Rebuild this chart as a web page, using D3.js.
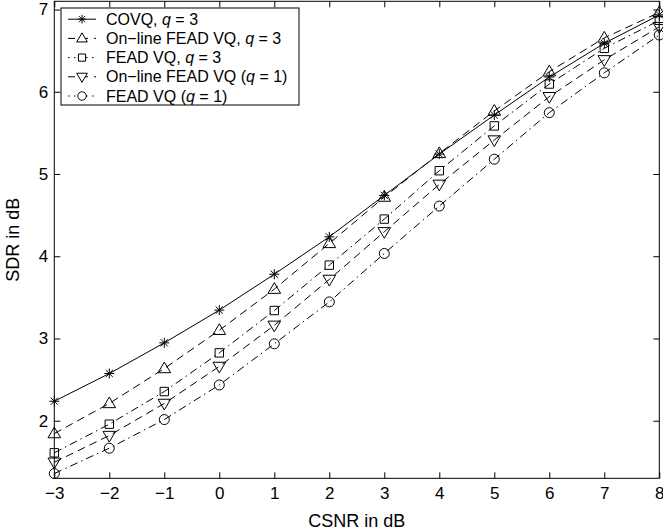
<!DOCTYPE html>
<html>
<head>
<meta charset="utf-8">
<script src="https://cdn.jsdelivr.net/npm/d3@7"></script>
<style>
  html, body { margin: 0; padding: 0; background: #fff; }
  svg { display: block; }
  text { font-family: "Liberation Sans", Arial, Helvetica, sans-serif; fill: #000; }
</style>
</head>
<body>
<svg id="chart" width="663" height="532"></svg>
<script>
// CSNR values (dB) on the horizontal axis
const csnr = [-3, -2, -1, 0, 1, 2, 3, 4, 5, 6, 7, 8];

// SDR (dB) for each scheme
const covqQ3       = [2.237, 2.574, 2.947, 3.345, 3.782, 4.236, 4.740, 5.242, 5.717, 6.179, 6.589, 6.935];
const onlineFeadQ3 = [1.844, 2.210, 2.635, 3.100, 3.600, 4.156, 4.720, 5.250, 5.766, 6.244, 6.655, 6.965];
const feadQ3       = [1.610, 1.958, 2.355, 2.825, 3.340, 3.892, 4.452, 5.040, 5.585, 6.094, 6.528, 6.868];
const onlineFeadQ1 = [1.495, 1.820, 2.210, 2.660, 3.160, 3.718, 4.297, 4.874, 5.413, 5.940, 6.388, 6.790];
const feadQ1       = [1.358, 1.666, 2.014, 2.435, 2.935, 3.445, 4.034, 4.610, 5.180, 5.746, 6.230, 6.690];

// Legend labels (plain part, italic q, rest)
const seriesLabels = [
  ["COVQ, ", "q", " = 3"],
  ["On\u2212line FEAD VQ, ", "q", " = 3"],
  ["FEAD VQ, ", "q", " = 3"],
  ["On\u2212line FEAD VQ (", "q", " = 1)"],
  ["FEAD VQ (", "q", " = 1)"]
];

// Tick values
const xTicks = [-3, -2, -1, 0, 1, 2, 3, 4, 5, 6, 7, 8];
const yTicks = [2, 3, 4, 5, 6, 7];

const xLabel = "CSNR in dB";
const yLabel = "SDR in dB";

// ---- drawing ----
const svg = d3.select("#chart");
const plot = { left: 54.3, right: 659.3, top: 1.3, bottom: 478.3 };

const x = d3.scaleLinear().domain([-3, 8]).range([plot.left, plot.right]);
const y = d3.scaleLinear().domain([1.3, 7.1]).range([plot.bottom, plot.top]);

// Line style per scheme; the short legend samples use a tighter pattern
const series = [
  { values: covqQ3,       dash: null,        keyDash: null,      marker: "star" },
  { values: onlineFeadQ3, dash: "8,5",       keyDash: "7,6",     marker: "tri-up" },
  { values: feadQ3,       dash: "8,4,1.5,4", keyDash: "1.5,4.5", marker: "square" },
  { values: onlineFeadQ1, dash: "8,5",       keyDash: "7,6",     marker: "tri-down" },
  { values: feadQ1,       dash: "8,4,1.5,4", keyDash: "1.5,4.5", marker: "circle" }
];

// Marker outline paths centred at (0,0)
function markerPath(kind, k = 1) {
  const p = d3.path();
  if (kind === "star") {
    const r = 5 * k;
    const d = r * 0.72;
    p.moveTo(-r, 0); p.lineTo(r, 0);
    p.moveTo(0, -r); p.lineTo(0, r);
    p.moveTo(-d, -d); p.lineTo(d, d);
    p.moveTo(-d, d); p.lineTo(d, -d);
  } else if (kind === "tri-up") {
    p.moveTo(0, -6.5 * k); p.lineTo(6.3 * k, 4.2 * k); p.lineTo(-6.3 * k, 4.2 * k); p.closePath();
  } else if (kind === "tri-down") {
    p.moveTo(0, 6.5 * k); p.lineTo(6.3 * k, -4.2 * k); p.lineTo(-6.3 * k, -4.2 * k); p.closePath();
  } else if (kind === "square") {
    p.rect(-4.2 * k, -4.2 * k, 8.4 * k, 8.4 * k);
  } else if (kind === "circle") {
    p.arc(0, 0, 5 * k, 0, 2 * Math.PI);
  }
  return p.toString();
}

// Axes box with inward ticks on all four sides
const axisBottom = d3.axisBottom(x).tickValues(xTicks).tickSizeInner(-6).tickSizeOuter(0)
  .tickFormat(d => d < 0 ? "\u2212" + Math.abs(d) : String(d)).tickPadding(9);
const axisTop = d3.axisTop(x).tickValues(xTicks).tickSizeInner(-6).tickSizeOuter(0).tickFormat("");
const axisLeft = d3.axisLeft(y).tickValues(yTicks).tickSizeInner(-6).tickSizeOuter(0)
  .tickFormat(d3.format("d")).tickPadding(6);
const axisRight = d3.axisRight(y).tickValues(yTicks).tickSizeInner(-6).tickSizeOuter(0).tickFormat("");

function styleAxis(g) {
  g.select(".domain").remove();
  g.selectAll(".tick line").attr("stroke", "#000").attr("stroke-width", 1);
  g.selectAll(".tick text").attr("font-size", 17).attr("fill", "#000")
    .attr("font-family", "'Liberation Sans', Arial, sans-serif");
}

svg.append("g").attr("transform", `translate(0,${plot.bottom})`).call(axisBottom).call(styleAxis);
svg.append("g").attr("transform", `translate(0,${plot.top})`).call(axisTop).call(styleAxis);
svg.append("g").attr("transform", `translate(${plot.left},0)`).call(axisLeft).call(styleAxis);
svg.append("g").attr("transform", `translate(${plot.right},0)`).call(axisRight).call(styleAxis);

svg.append("rect")
  .attr("x", plot.left).attr("y", plot.top)
  .attr("width", plot.right - plot.left).attr("height", plot.bottom - plot.top)
  .attr("fill", "none").attr("stroke", "#000").attr("stroke-width", 1);

// Axis titles
svg.append("text")
  .attr("x", (plot.left + plot.right) / 2).attr("y", 527)
  .attr("text-anchor", "middle").attr("font-size", 18)
  .text(xLabel);
svg.append("text")
  .attr("transform", `translate(19,${(plot.top + plot.bottom) / 2}) rotate(-90)`)
  .attr("text-anchor", "middle").attr("font-size", 18)
  .text(yLabel);

// Curves and markers
const line = d3.line().x((d, i) => x(csnr[i])).y(d => y(d));
const curves = svg.append("g");
series.forEach(s => {
  curves.append("path")
    .attr("d", line(s.values))
    .attr("fill", "none").attr("stroke", "#000").attr("stroke-width", 1)
    .attr("stroke-dasharray", s.dash);
  curves.selectAll(null).data(s.values).enter().append("path")
    .attr("transform", (d, i) => `translate(${x(csnr[i])},${y(d)})`)
    .attr("d", markerPath(s.marker))
    .attr("fill", "none").attr("stroke", "#000").attr("stroke-width", 1);
});

// Legend
const legend = svg.append("g");
const lg = { x: 61, y: 8, w: 238, h: 97 };
legend.append("rect")
  .attr("x", lg.x).attr("y", lg.y).attr("width", lg.w).attr("height", lg.h)
  .attr("fill", "#fff").attr("stroke", "#000").attr("stroke-width", 1);
const rowH = 19.2;
series.forEach((s, i) => {
  const cy = lg.y + 11.2 + rowH * i;
  legend.append("line")
    .attr("x1", 68).attr("x2", 96).attr("y1", cy).attr("y2", cy)
    .attr("stroke", "#000").attr("stroke-width", 1)
    .attr("stroke-dasharray", s.keyDash);
  legend.append("path")
    .attr("transform", `translate(82,${cy})`)
    .attr("d", markerPath(s.marker, 0.85))
    .attr("fill", "#fff").attr("stroke", "#000").attr("stroke-width", 1);
  const t = legend.append("text")
    .attr("x", 106).attr("y", cy + 5.5).attr("font-size", 16);
  t.append("tspan").text(seriesLabels[i][0]);
  t.append("tspan").attr("font-style", "italic").text(seriesLabels[i][1]);
  t.append("tspan").text(seriesLabels[i][2]);
});
</script>
</body>
</html>
